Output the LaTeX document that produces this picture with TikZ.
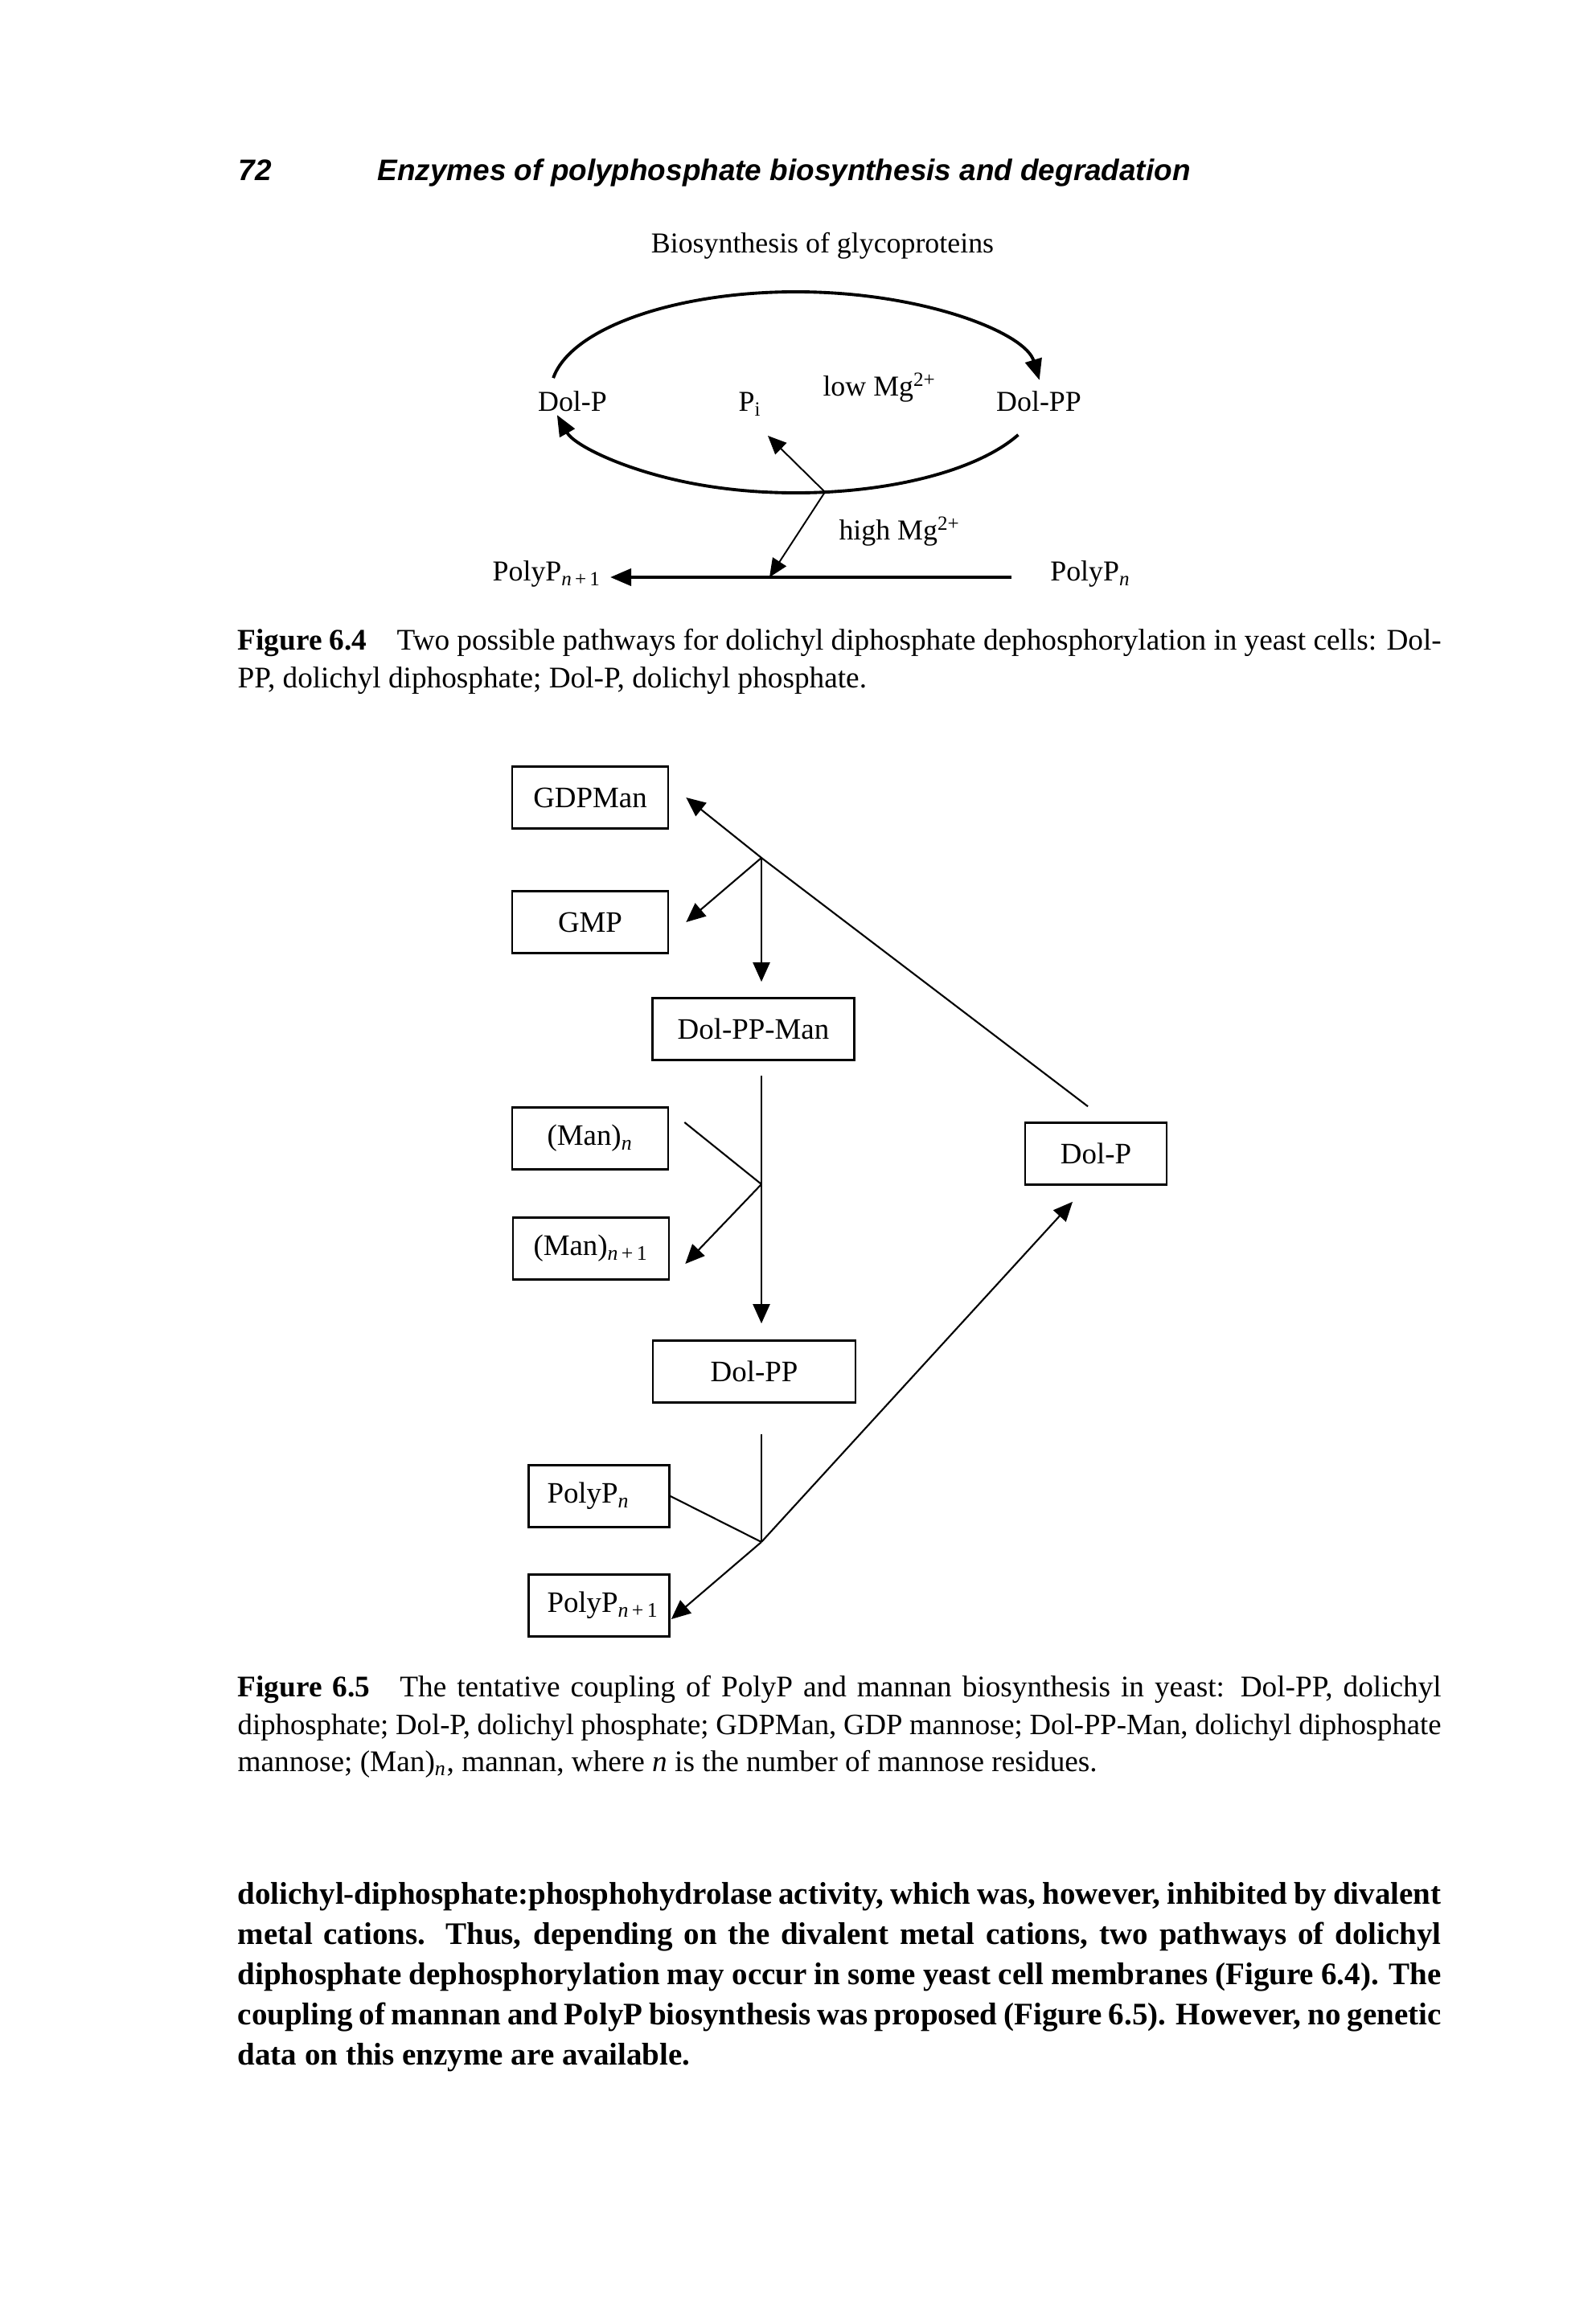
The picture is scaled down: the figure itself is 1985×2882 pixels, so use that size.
\documentclass[tikz,border=0pt]{standalone}
\usepackage{fontspec}
\setmainfont{Liberation Serif}
\newfontfamily\headfont{Liberation Sans}
\usetikzlibrary{arrows.meta,calc}

\tikzset{
  lab/.style={anchor=base, inner sep=0pt, font=\fontsize{10.2}{12}\selectfont},
  box/.style={draw, line width=0.75pt, minimum width=19.4mm, minimum height=7.7mm,
    inner sep=0pt, font=\fontsize{10.5}{12}\selectfont},
  pbox/.style={box, minimum width=17.5mm, text width=12.9mm, align=left, inner xsep=2.3mm},
  thk/.style={line width=1.1pt, -{Triangle[length=2.6mm,width=2.1mm]}},
  thn/.style={line width=0.55pt, -{Triangle[length=2.3mm,width=2mm]}},
  ln/.style={line width=0.6pt},
  arw/.style={ln, -{Triangle[length=2.4mm,width=2.1mm]}},
  txt/.style={anchor=base west, inner sep=0pt, font=\fontsize{10.6}{12}\selectfont},
  body/.style={anchor=base west, inner sep=0pt, font=\fontsize{11.1}{13}\bfseries}
}

\begin{document}
\begin{tikzpicture}[x=0.1mm, y=-0.1mm]

    \fill[white] (0,0) rectangle (1985,2882);
    \useasboundingbox (0,0) rectangle (1985,2882);

    % Running head
    \node[anchor=base west, inner sep=0pt, font=\headfont\bfseries\itshape\fontsize{10.5}{12}\selectfont] (pg) at (296,225) {72};
    \node[anchor=base west, inner sep=0pt, font=\headfont\bfseries\itshape\fontsize{10.5}{12}\selectfont] (head) at (469,225) {Enzymes of polyphosphate biosynthesis and degradation};

    % Figure 6.4
    \node[lab] (bio) at (1023,315) {Biosynthesis of glycoproteins};
    \node[lab] (dolp) at (712,512) {Dol-P};
    \node[lab, anchor=base west] (pi) at (918,512) {P\textsubscript{i}};
    \node[lab] (lowmg) at (1094,493) {low Mg\textsuperscript{2+}};
    \node[lab] (dolpp) at (1292,512) {Dol-PP};
    \node[lab] (highmg) at (1119,672) {high Mg\textsuperscript{2+}};
    \node[lab, anchor=base west] (pn1) at (612,723) {PolyP\textsubscript{\textit{n}\,+\,1}};
    \node[lab, anchor=base east] (pn) at (1407,723) {PolyP\textsubscript{\textit{n}}};

    \coordinate (cyc) at (990,488);
    \coordinate (jn) at (1026,612);
    \coordinate (pitip) at (955,542);
    \coordinate (r0) at (1258,718);
    \coordinate (r1) at (759,718);
    \coordinate (hm) at (957,718);

    \draw[thk] ([shift={(188.2:305 and 125)}]cyc) arc[start angle=188.2, end angle=353, x radius=305, y radius=125];
    \draw[thk] ([shift={(25:305 and 125)}]cyc) arc[start angle=25, end angle=167, x radius=305, y radius=125];
    \draw[thn] (jn) -- (pitip);
    \draw[thn] (jn) -- (hm);
    \draw[thk] (r0) -- (r1);

    \node[txt] (c1a) at (295,808) {\makebox[149.7mm][s]{\textbf{Figure 6.4}\quad Two possible pathways for dolichyl diphosphate dephosphorylation in yeast cells: Dol-}};
    \node[txt] (c1b) at (295,855) {PP, dolichyl diphosphate; Dol-P, dolichyl phosphate.};

    % Figure 6.5
    \node[box] (gdpman) at (734,992) {GDPMan};
    \node[box] (gmp) at (734,1147) {GMP};
    \node[box, minimum width=25.1mm] (dolppman) at (937,1280) {Dol-PP-Man};
    \node[box] (mann) at (734,1416) {(Man)\textsubscript{\textit{n}}};
    \node[box] (mann1) at (735,1553) {(Man)\textsubscript{\textit{n}\,+\,1}};
    \node[box, minimum width=25.2mm] (dolpp2) at (938,1706) {Dol-PP};
    \node[pbox] (polyn) at (745,1861) {PolyP\textsubscript{\textit{n}}};
    \node[pbox] (polyn1) at (745,1997) {PolyP\textsubscript{\textit{n}\,+\,1}};
    \node[box, minimum width=17.6mm] (dolp2) at (1363,1435) {Dol-P};

    \coordinate (b1) at (947,1067);
    \coordinate (b2) at (947,1473);
    \coordinate (b3) at (947,1918);

    \draw[arw] ([shift={(-10,-19)}]dolp2.north) -- (b1) -- ([xshift=2.1mm]gdpman.east);
    \draw[arw] (b1) -- ([xshift=2.1mm]gmp.east);
    \draw[arw] (b1) -- ($(b1 |- dolppman.north)+(0,-19)$);
    \draw[arw] ($(b2 |- dolppman.south)+(0,18)$) -- ($(b2 |- dolpp2.north)+(0,-20)$);
    \draw[ln] ([shift={(19,-20)}]mann.east) -- (b2);
    \draw[arw] (b2) -- ([shift={(19,19)}]mann1.east);
    \draw[ln] ($(b3 |- dolpp2.south)+(0,38)$) -- (b3);
    \draw[ln] (polyn.east) -- (b3);
    \draw[arw] (b3) -- ([shift={(1,17)}]polyn1.east);
    \draw[arw] (b3) -- ([shift={(-29,20)}]dolp2.south);

    \node[txt] (c2a) at (295,2110) {\makebox[149.7mm][s]{\textbf{Figure 6.5}\quad The tentative coupling of PolyP and mannan biosynthesis in yeast: Dol-PP, dolichyl}};
    \node[txt, font=\fontsize{10.45}{12}\selectfont] (c2b) at (295,2157) {\makebox[149.7mm][s]{diphosphate; Dol-P, dolichyl phosphate; GDPMan, GDP mannose; Dol-PP-Man, dolichyl diphosphate}};
    \node[txt] (c2c) at (295,2203) {mannose; (Man)\textsubscript{\textit{n}}, mannan, where \textit{n} is the number of mannose residues.};

    % Body text
    \node[body] (t1) at (295,2368) {\makebox[149.7mm][s]{dolichyl-diphosphate:phosphohydrolase activity, which was, however, inhibited by divalent}};
    \node[body] (t2) at (295,2418) {\makebox[149.7mm][s]{metal cations. Thus, depending on the divalent metal cations, two pathways of dolichyl}};
    \node[body] (t3) at (295,2468) {\makebox[149.7mm][s]{diphosphate dephosphorylation may occur in some yeast cell membranes (Figure 6.4). The}};
    \node[body] (t4) at (295,2518) {\makebox[149.7mm][s]{coupling of mannan and PolyP biosynthesis was proposed (Figure 6.5). However, no genetic}};
    \node[body] (t5) at (295,2568) {data on this enzyme are available.};

\end{tikzpicture}
\end{document}
